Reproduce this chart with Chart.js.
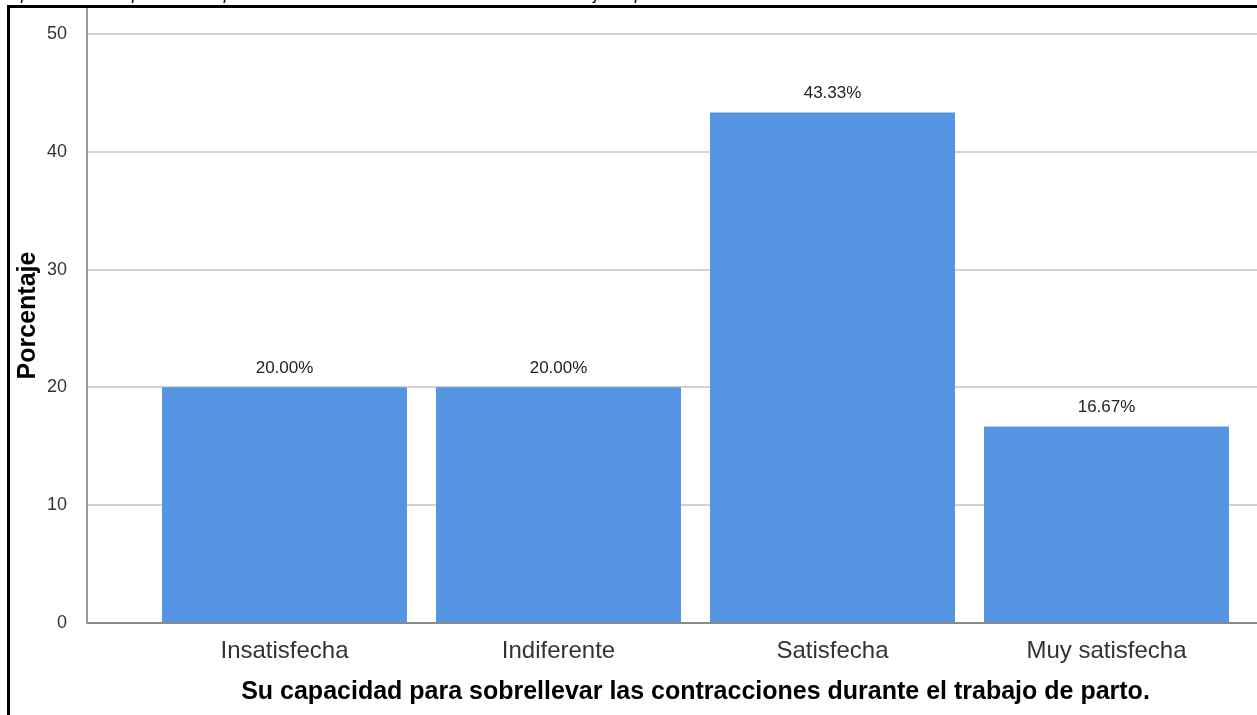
<!DOCTYPE html>
<html>
<head>
<meta charset="utf-8">
<script src="https://cdn.jsdelivr.net/npm/chart.js@4.4.1/dist/chart.umd.min.js"></script>
<style>
  html, body { margin: 0; padding: 0; background: #fff; overflow: hidden; }
  #wrap { position: relative; width: 1257px; height: 715px; overflow: hidden; }
  #caption {
    position: absolute; left: 0; top: -15px; white-space: nowrap;
    font: italic 16.5px "Liberation Sans", Arial, sans-serif; color: #000;
  }
  #frame {
    position: absolute; left: 7px; top: 5px; width: 1300px; height: 707px;
    border-left: 3px solid #000; border-top: 3px solid #000; border-bottom: 1px solid #c8c8c8;
  }
  #holder { position: absolute; left: 0; top: 0; width: 1320px; height: 715px; }
</style>
</head>
<body>
<div id="wrap">
  <div id="caption">Capacidad de las parturientas para sobrellevar las contracciones durante el trabajo de parto</div>
  <div id="holder"><canvas id="barChart" width="1320" height="715"></canvas></div>
  <div id="frame"></div>
</div>
<script>
// categories and percentages
const categorias = ["Insatisfecha", "Indiferente", "Satisfecha", "Muy satisfecha"];
const porcentajes = [20.00, 20.00, 43.33, 16.67];
const yTicks = [0, 10, 20, 30, 40, 50];

const barColor = "#5594e3";
const fontFam = "'Liberation Sans', Arial, sans-serif";

// bars sit on a numeric x axis so there is room left and right of the outer bars
const puntos = porcentajes.map((v, i) => ({ x: i, y: v }));

// draws "xx.xx%" above each bar
const valueLabels = {
  id: "valueLabels",
  afterDatasetsDraw(chart) {
    const ctx = chart.ctx;
    const meta = chart.getDatasetMeta(0);
    ctx.save();
    ctx.font = "17px " + fontFam;
    ctx.fillStyle = "#222";
    ctx.textAlign = "center";
    ctx.textBaseline = "middle";
    meta.data.forEach((bar, i) => {
      ctx.fillText(porcentajes[i].toFixed(2) + "%", bar.x, bar.y - 19);
    });
    ctx.restore();
  }
};

const ctx = document.getElementById("barChart").getContext("2d");
new Chart(ctx, {
  type: "bar",
  data: {
    datasets: [{
      data: puntos,
      backgroundColor: barColor,
      borderWidth: 0,
      barPercentage: 0.894,
      categoryPercentage: 1.0
    }]
  },
  options: {
    responsive: false,
    animation: false,
    devicePixelRatio: 1,
    layout: { padding: { top: 8, right: 16, left: 0, bottom: 0 } },
    plugins: { legend: { display: false }, tooltip: { enabled: false } },
    scales: {
      x: {
        type: "linear",
        min: -0.7208,
        max: 3.7208,
        offset: false,
        afterBuildTicks(scale) {
          scale.ticks = categorias.map((_, i) => ({ value: i }));
        },
        grid: { display: false, drawTicks: false, offset: false },
        border: { display: true, color: "#8a8a8a", width: 2 },
        ticks: {
          color: "#333",
          font: { family: fontFam, size: 24 },
          padding: 14,
          maxRotation: 0,
          autoSkip: false,
          callback: (v) => categorias[v]
        },
        title: {
          display: true,
          text: "Su capacidad para sobrellevar las contracciones durante el trabajo de parto.",
          color: "#000",
          font: { family: fontFam, size: 25, weight: "bold" },
          padding: { top: 0, bottom: 8 }
        },
        afterFit(scale) {
          scale.height = 92;
          scale.paddingLeft = 0;
          scale.paddingRight = 0;
        }
      },
      y: {
        min: 0,
        max: 52.2,
        afterBuildTicks(scale) {
          scale.ticks = yTicks.map(v => ({ value: v }));
        },
        grid: { color: "#d2d2d2", lineWidth: 2, drawTicks: false },
        border: { display: true, color: "#9a9a9a", width: 2 },
        ticks: {
          color: "#333",
          font: { family: fontFam, size: 18 },
          padding: 20
        },
        title: {
          display: true,
          text: "Porcentaje",
          color: "#000",
          font: { family: fontFam, size: 25, weight: "bold" },
          padding: { top: 13, bottom: 0 }
        },
        afterFit(scale) {
          scale.width = 87;
          scale.paddingTop = 0;
          scale.paddingBottom = 0;
        }
      }
    }
  },
  plugins: [valueLabels]
});
</script>
</body>
</html>
